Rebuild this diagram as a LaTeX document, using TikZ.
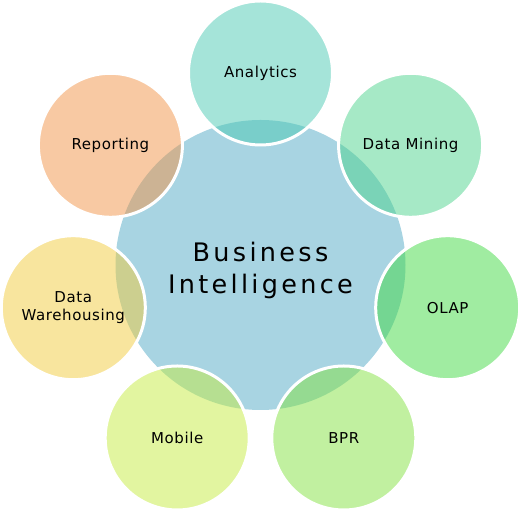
\documentclass[tikz,border=0pt]{standalone}
\usepackage{fontspec}
\newfontfamily\petalfont[LetterSpace=4]{DejaVu Sans}
\newfontfamily\hubfont[LetterSpace=13]{DejaVu Sans}
\begin{document}
\begin{tikzpicture}[x=1pt,y=1pt,
  petal/.style={circle, minimum size=144pt, inner sep=0pt, fill opacity=0.5, text opacity=1, draw=white, draw opacity=1, line width=3pt, align=center, font=\petalfont\fontsize{15}{18}\selectfont},
  hubtext/.style={align=center, font=\hubfont\fontsize{25.5}{32}\selectfont}]
\useasboundingbox (0,0) rectangle (523,513);
\node[circle, minimum size=290pt, inner sep=0pt, fill={rgb,255:red,168;green,212;blue,226}] (hub) at (260.5,248) {};
\node[hubtext] (title) at ([yshift=-5.5pt]hub.center) {Business\\Intelligence};
\node[petal, fill={rgb,255:red,75;green,201;blue,179}] (analytics) at (260.5,440) {Analytics};
\node[petal, fill={rgb,255:red,77;green,211;blue,141}] (mining) at (410.6,367.7) {Data Mining};
\node[petal, fill={rgb,255:red,65;green,217;blue,67}] (olap) at (447.7,205.3) {OLAP};
\node[petal, fill={rgb,255:red,131;green,225;blue,65}] (bpr) at (343.8,75) {BPR};
\node[petal, fill={rgb,255:red,197;green,235;blue,65}] (mobile) at (177.2,75) {Mobile};
\node[petal, fill={rgb,255:red,241;green,203;blue,61}] (warehousing) at (73.3,205.3) {Data\\Warehousing};
\node[petal, fill={rgb,255:red,241;green,147;blue,71}] (reporting) at (110.4,367.7) {Reporting};
\end{tikzpicture}
\end{document}
